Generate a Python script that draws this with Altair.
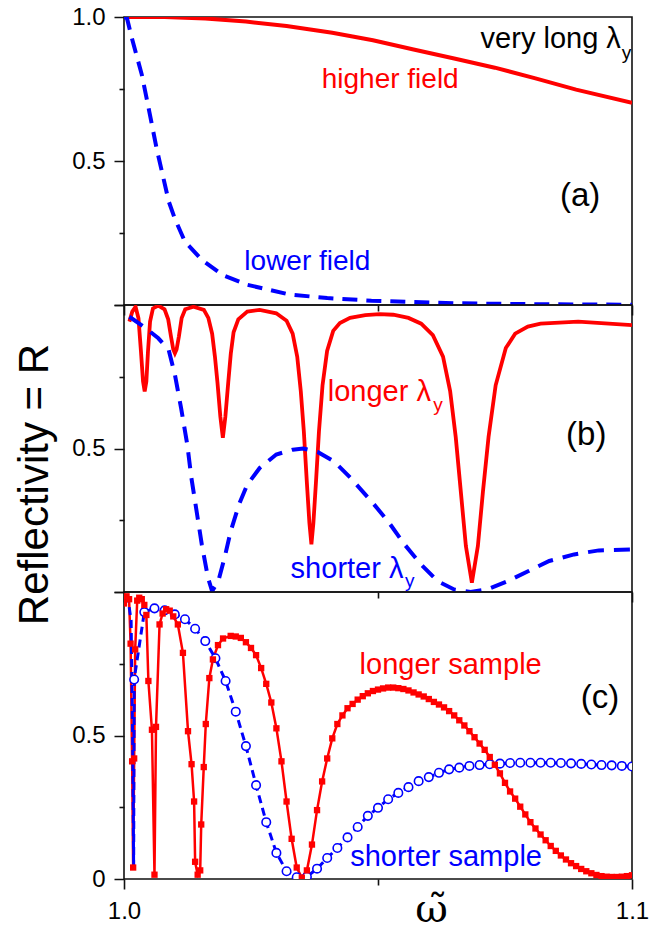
import altair as alt
import pandas as pd

RED = "#ff0000"
BLUE = "#0000ff"
INK = "#111111"
SANS = "Liberation Sans, Arial, Helvetica, sans-serif"
SERIF = "DejaVu Serif, Liberation Serif, serif"

X_DOMAIN = [1.0, 1.1]
Y_DOMAIN = [0.0, 1.0]
X_TICKS = [1.0, 1.05, 1.1]
Y_TICKS = [0.0, 0.25, 0.5, 0.75, 1.0]

# ---------------- panel (a): very long lambda_y ----------------
a_high_x = [1.000, 1.008, 1.016, 1.024, 1.032, 1.041, 1.049, 1.057, 1.065, 1.073, 1.081, 1.089, 1.100]
a_high_y = [1.000, 1.000, 0.995, 0.984, 0.969, 0.945, 0.919, 0.887, 0.856, 0.824, 0.787, 0.748, 0.702]

a_low_x = [1.0000, 1.0006, 1.0015, 1.0035, 1.0050, 1.0064, 1.0088, 1.0100, 1.0120, 1.0153,
           1.0194, 1.0243, 1.0324, 1.0400, 1.0487, 1.0650, 1.0800, 1.1000]
a_low_y = [1.000, 0.995, 0.930, 0.800, 0.670, 0.545, 0.360, 0.300, 0.220, 0.157,
           0.104, 0.070, 0.037, 0.024, 0.015, 0.006, 0.003, 0.001]

# ---------------- panel (b): longer / shorter lambda_y ----------------
b_long_x = [1.00106, 1.00163, 1.00228, 1.00285, 1.00334, 1.00375, 1.00407, 1.00440, 1.00472, 1.00513,
            1.00570, 1.00676, 1.00798, 1.00870, 1.00925, 1.00970, 1.01002, 1.01035, 1.01080, 1.01135,
            1.01205, 1.01368, 1.01572, 1.01660, 1.01735, 1.01790, 1.01840, 1.01897, 1.01946, 1.01995,
            1.02052, 1.02102, 1.02157, 1.02250, 1.02427, 1.02671, 1.02997, 1.03200, 1.03320, 1.03410,
            1.03480, 1.03540, 1.03600, 1.03650, 1.03689, 1.03728, 1.03778, 1.03838, 1.03908, 1.03998,
            1.04118, 1.04250, 1.04450, 1.04750, 1.05032, 1.05300, 1.05600, 1.05850, 1.06080, 1.06280,
            1.06420, 1.06530, 1.06630, 1.06730, 1.06848, 1.06966, 1.07066, 1.07176, 1.07316, 1.07516,
            1.07700, 1.07950, 1.08200, 1.08941, 1.10000]
b_long_y = [0.942, 0.977, 0.994, 0.954, 0.838, 0.733, 0.699, 0.733, 0.838, 0.942,
            0.988, 0.998, 0.985, 0.950, 0.890, 0.845, 0.832, 0.845, 0.890, 0.955,
            0.985, 0.994, 0.983, 0.955, 0.900, 0.820, 0.730, 0.610, 0.537, 0.610,
            0.730, 0.830, 0.905, 0.950, 0.977, 0.983, 0.971, 0.945, 0.900, 0.820,
            0.700, 0.560, 0.380, 0.240, 0.166, 0.240, 0.380, 0.560, 0.720, 0.840,
            0.910, 0.937, 0.955, 0.965, 0.968, 0.966, 0.955, 0.935, 0.895, 0.820,
            0.700, 0.540, 0.350, 0.160, 0.032, 0.160, 0.350, 0.540, 0.720, 0.850,
            0.900, 0.925, 0.935, 0.942, 0.930]

b_short_x = [1.00106, 1.00432, 1.00676, 1.00879, 1.01002, 1.01124, 1.01246, 1.01327, 1.01450, 1.01531,
             1.01653, 1.01734, 1.01857, 1.01979, 1.02101, 1.02264, 1.02427, 1.02671, 1.02997, 1.03322,
             1.03526, 1.03811, 1.04137, 1.04462, 1.04870, 1.05195, 1.05521, 1.05847, 1.06172, 1.06498,
             1.06824, 1.07150, 1.07557, 1.07964, 1.08371, 1.08860, 1.09348, 1.10000]
b_short_y = [0.959, 0.919, 0.884, 0.844, 0.757, 0.641, 0.513, 0.397, 0.258, 0.166,
             0.050, 0.003, 0.038, 0.119, 0.212, 0.305, 0.374, 0.432, 0.479, 0.496,
             0.500, 0.488, 0.455, 0.397, 0.316, 0.247, 0.166, 0.096, 0.038, 0.009,
             0.000, 0.009, 0.038, 0.073, 0.108, 0.131, 0.145, 0.148]

# ---------------- panel (c): longer / shorter sample ----------------
c_long_x = [1.0000, 1.0005, 1.0010, 1.0013, 1.0016, 1.0018, 1.0020, 1.0022, 1.0026, 1.0030,
            1.0035, 1.0040, 1.0044, 1.0048, 1.0055, 1.0060, 1.0063, 1.0070, 1.0076, 1.0083,
            1.0090, 1.0097, 1.0106, 1.0116, 1.0126, 1.0133, 1.0138, 1.0140, 1.0145, 1.0150,
            1.0152, 1.0157, 1.0161, 1.0168, 1.0175, 1.0185, 1.0195,
            1.021, 1.022, 1.023, 1.024, 1.025, 1.026, 1.027, 1.028, 1.029, 1.030,
            1.031, 1.032, 1.033, 1.034, 1.035, 1.036, 1.037, 1.038, 1.039, 1.040,
            1.041, 1.042, 1.043, 1.044, 1.045, 1.046, 1.047, 1.048, 1.049, 1.050,
            1.051, 1.052, 1.053, 1.054, 1.055, 1.056, 1.057, 1.058, 1.059, 1.060,
            1.061, 1.062, 1.063, 1.064, 1.065, 1.066, 1.067, 1.068, 1.069, 1.070,
            1.071, 1.072, 1.073, 1.074, 1.075, 1.076, 1.077, 1.078, 1.079, 1.080,
            1.081, 1.082, 1.083, 1.084, 1.085, 1.086, 1.087, 1.088, 1.089, 1.090,
            1.091, 1.092, 1.093, 1.094, 1.095, 1.096, 1.097, 1.098, 1.099, 1.100]
c_long_y = [0.960, 0.985, 0.975, 0.820, 0.410, 0.040, 0.420, 0.800, 0.970, 0.980,
            0.975, 0.955, 0.920, 0.690, 0.520, 0.015, 0.530, 0.887, 0.925, 0.940,
            0.935, 0.915, 0.887, 0.788, 0.515, 0.400, 0.270, 0.060, 0.015, 0.030,
            0.190, 0.390, 0.540, 0.700, 0.765, 0.815, 0.838,
            0.847, 0.845, 0.840, 0.825, 0.805, 0.780, 0.735, 0.680, 0.615, 0.525,
            0.410, 0.270, 0.140, 0.040, 0.005, 0.030, 0.120, 0.240, 0.340, 0.420,
            0.490, 0.540, 0.570, 0.595, 0.610, 0.625, 0.637, 0.647, 0.655, 0.660,
            0.664, 0.667, 0.667, 0.665, 0.662, 0.657, 0.650, 0.643, 0.636, 0.627,
            0.617, 0.608, 0.598, 0.585, 0.570, 0.553, 0.535, 0.515, 0.494, 0.472,
            0.450, 0.425, 0.398, 0.368, 0.335, 0.305, 0.280, 0.252, 0.225, 0.198,
            0.176, 0.155, 0.135, 0.115, 0.098, 0.082, 0.068, 0.055, 0.045, 0.035,
            0.027, 0.020, 0.014, 0.010, 0.008, 0.007, 0.007, 0.008, 0.010, 0.013]

c_short_x = [1.002, 1.004, 1.006, 1.008, 1.010, 1.012, 1.014, 1.016, 1.018, 1.020,
             1.022, 1.024, 1.026, 1.028, 1.030, 1.032, 1.034, 1.036, 1.038, 1.040,
             1.042, 1.044, 1.046, 1.048, 1.050, 1.052, 1.054, 1.056, 1.058, 1.060,
             1.062, 1.064, 1.066, 1.068, 1.070, 1.072, 1.074, 1.076, 1.078, 1.080,
             1.082, 1.084, 1.086, 1.088, 1.090, 1.092, 1.094, 1.096, 1.098, 1.100]
c_short_y = [0.695, 0.930, 0.943, 0.936, 0.922, 0.905, 0.872, 0.829, 0.769, 0.690,
             0.583, 0.463, 0.327, 0.198, 0.091, 0.027, 0.006, 0.008, 0.036, 0.073,
             0.108, 0.145, 0.181, 0.220, 0.248, 0.278, 0.300, 0.320, 0.341, 0.355,
             0.370, 0.382, 0.388, 0.394, 0.397, 0.400, 0.402, 0.404, 0.405, 0.405,
             0.405, 0.405, 0.404, 0.403, 0.401, 0.399, 0.397, 0.396, 0.394, 0.392]
# dashed guide of the shorter sample before its first circle
c_short_lead_x = [1.0000, 1.0008, 1.0014, 1.0017, 1.0019]
c_short_lead_y = [0.985, 0.975, 0.900, 0.500, 0.040]

# ---------------- annotations ----------------
a_notes = {"t": ["very long λ", "y", "higher field", "(a)", "lower field"],
           "x": [1.0978, 1.0980, 1.0524, 1.0898, 1.0361],
           "y": [0.893, 0.854, 0.752, 0.377, 0.122]}
b_notes = {"t": ["longer λ", "y", "(b)", "shorter λ", "y"],
           "x": [1.0401, 1.0609, 1.0910, 1.0328, 1.0553],
           "y": [0.664, 0.629, 0.548, 0.050, 0.017]}
c_notes = {"t": ["longer sample", "(c)", "shorter sample"],
           "x": [1.0643, 1.0937, 1.0634],
           "y": [0.715, 0.631, 0.044]}


def df(xs, ys):
    return pd.DataFrame({"w": xs, "R": ys, "i": list(range(len(xs)))})


def note(d, idx):
    return pd.DataFrame({"t": [d["t"][k] for k in idx],
                         "w": [d["x"][k] for k in idx],
                         "R": [d["y"][k] for k in idx]})


XS = alt.Scale(domain=X_DOMAIN, nice=False, zero=False)
YS = alt.Scale(domain=Y_DOMAIN, nice=False, zero=False)


def x_axis(show_labels, title_kw=None):
    kw = dict(values=X_TICKS, domain=False, grid=False, tickColor=INK, tickWidth=1.6, tickSize=10,
              tickDash={"condition": {"test": "abs(datum.value - 1.05) < 0.001", "value": [6, 30]},
                        "value": [1, 0]},
              labels=show_labels,
              labelExpr="abs(datum.value - 1.05) < 0.001 ? '' : format(datum.value, '.1f')",
              labelFont=SANS, labelFontSize=24, labelColor="#000", labelPadding=10,
              labelOverlap=False, labelFlush=False)
    if title_kw:
        kw.update(title_kw)
    else:
        kw["title"] = None
    return alt.Axis(**kw)


def y_axis(label_expr, title_kw=None):
    kw = dict(values=Y_TICKS, domain=False, grid=False, tickColor=INK, tickWidth=1.6, tickSize=10,
              tickDash={"condition": {"test": "datum.value == 0.25 || datum.value == 0.75", "value": [5, 30]},
                        "value": [1, 0]},
              labelExpr=label_expr, labelFont=SANS, labelFontSize=24, labelColor="#000",
              labelPadding=9, labelOverlap=False, labelFlush=False)
    if title_kw:
        kw.update(title_kw)
    else:
        kw["title"] = None
    return alt.Axis(**kw)


Y_TITLE = dict(title="Reflectivity = R", titleFont=SANS, titleFontSize=42, titleFontWeight="normal",
               titleColor="#000", titleAngle=270, titleAlign="center", titleBaseline="alphabetic",
               titleX=-77, titleY=179)
X_TITLE = dict(title="ω̃", titleFont=SERIF, titleFontSize=40, titleFontWeight="normal",
               titleColor="#000", titleAngle=0, titleAlign="center", titleBaseline="alphabetic",
               titleX=307, titleY=42)


def make_panel(xaxis, yaxis, line_specs, point_specs, text_specs, height):
    xe = alt.X("w:Q", scale=XS, axis=xaxis)
    ye = alt.Y("R:Q", scale=YS, axis=yaxis)
    layers = []
    for d, mk in line_specs:
        layers.append(alt.Chart(d).mark_line(clip=True, **mk).encode(x=xe, y=ye, order="i:Q"))
    for d, kind, mk in point_specs:
        if kind == "square":
            layers.append(alt.Chart(d).mark_square(clip=True, **mk).encode(x=xe, y=ye))
        else:
            layers.append(alt.Chart(d).mark_point(clip=True, **mk).encode(x=xe, y=ye))
    for d, mk in text_specs:
        layers.append(alt.Chart(d).mark_text(font=SANS, **mk).encode(x=xe, y=ye, text="t:N"))
    return alt.layer(*layers).properties(width=W, height=height)


W = 508

pa = make_panel(
    x_axis(False), y_axis("datum.value == 1 ? '1.0' : datum.value == 0.5 ? '0.5' : ''"),
    [(df(a_high_x, a_high_y), dict(color=RED, strokeWidth=4)),
     (df(a_low_x, a_low_y), dict(color=BLUE, strokeWidth=4, strokeDash=[15, 9]))],
    [],
    [(note(a_notes, [0]), dict(color="#000", fontSize=29, align="right", baseline="alphabetic")),
     (note(a_notes, [1]), dict(color="#000", fontSize=19, align="left", baseline="alphabetic")),
     (note(a_notes, [2]), dict(color=RED, fontSize=28, align="center", baseline="alphabetic")),
     (note(a_notes, [3]), dict(color="#000", fontSize=33, align="center", baseline="middle")),
     (note(a_notes, [4]), dict(color=BLUE, fontSize=28, align="center", baseline="alphabetic"))],
    288)

pb = make_panel(
    x_axis(False), y_axis("datum.value == 0.5 ? '0.5' : ''", Y_TITLE),
    [(df(b_long_x, b_long_y), dict(color=RED, strokeWidth=3.8)),
     (df(b_short_x, b_short_y), dict(color=BLUE, strokeWidth=4, strokeDash=[16, 10]))],
    [],
    [(note(b_notes, [0]), dict(color=RED, fontSize=29, align="left", baseline="alphabetic")),
     (note(b_notes, [1]), dict(color=RED, fontSize=19, align="left", baseline="alphabetic")),
     (note(b_notes, [2]), dict(color="#000", fontSize=33, align="center", baseline="middle")),
     (note(b_notes, [3]), dict(color=BLUE, fontSize=29, align="left", baseline="alphabetic")),
     (note(b_notes, [4]), dict(color=BLUE, fontSize=19, align="left", baseline="alphabetic"))],
    287)

c_dash_x = c_short_lead_x + c_short_x
c_dash_y = c_short_lead_y + c_short_y
pc = make_panel(
    x_axis(True, X_TITLE), y_axis("datum.value == 0.5 ? '0.5' : datum.value == 0 ? '0' : ''"),
    [(df(c_long_x, c_long_y), dict(color=RED, strokeWidth=2.5)),
     (df(c_dash_x, c_dash_y), dict(color=BLUE, strokeWidth=3, strokeDash=[8, 5]))],
    [(df(c_short_x, c_short_y), "circle", dict(shape="circle", filled=True, fill="white", stroke=BLUE,
                                               strokeWidth=1.6, size=72, opacity=1)),
     (df(c_long_x, c_long_y), "square", dict(color=RED, size=40, opacity=1))],
    [(note(c_notes, [0]), dict(color=RED, fontSize=29, align="center", baseline="alphabetic")),
     (note(c_notes, [1]), dict(color="#000", fontSize=33, align="center", baseline="middle")),
     (note(c_notes, [2]), dict(color=BLUE, fontSize=29, align="center", baseline="alphabetic"))],
    287)

chart = alt.vconcat(pa, pb, pc, spacing=0, bounds="flush").properties(
    padding={"left": 12, "top": 4, "right": 0, "bottom": 0}
).configure_view(stroke=INK, strokeWidth=1.6)

chart.save("out.html", embed_options={"renderer": "svg", "actions": False})
